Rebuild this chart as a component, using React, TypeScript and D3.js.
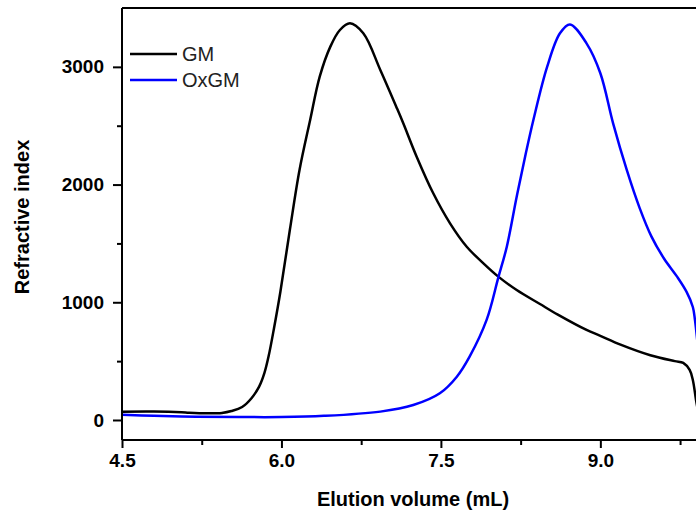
import * as d3 from "d3";
import * as React from "react";

// elution volume (mL) / refractive index
const gmVolume = [4.5, 4.8, 5.06, 5.13, 5.3, 5.44, 5.53, 5.63, 5.72, 5.79, 5.84, 5.88, 5.93, 5.99, 6.08, 6.17, 6.27, 6.36, 6.46, 6.55, 6.645, 6.77, 6.93, 7.08, 7.146, 7.272, 7.428, 7.586, 7.743, 7.9, 8.04, 8.213, 8.432, 8.6, 8.87, 9.0, 9.19, 9.47, 9.7, 9.78, 9.84, 9.87, 9.9, 9.93];
const gmSignal = [71, 72, 66, 62, 57, 60, 76, 110, 187, 283, 400, 545, 780, 1090, 1620, 2124, 2549, 2917, 3172, 3313, 3370, 3285, 2974, 2662, 2521, 2237, 1926, 1671, 1472, 1331, 1218, 1104, 985, 895, 765, 715, 640, 550, 500, 485, 425, 340, 170, 20];

const oxVolume = [4.5, 4.8, 5.2, 5.6, 6.0, 6.4, 6.93, 7.24, 7.49, 7.65, 7.77, 7.93, 8.04, 8.12, 8.213, 8.3, 8.37, 8.5, 8.62, 8.714, 8.87, 9.0, 9.12, 9.25, 9.37, 9.48, 9.6, 9.72, 9.81, 9.87, 9.89, 9.92, 9.95];
const oxSignal = [45, 35, 28, 25, 25, 35, 71, 127, 227, 368, 538, 850, 1210, 1472, 1897, 2270, 2549, 3002, 3285, 3360, 3200, 2946, 2520, 2120, 1800, 1560, 1370, 1220, 1090, 960, 850, 600, 300];

const xMajor = [4.5, 6.0, 7.5, 9.0];
const xMinor = [5.25, 6.75, 8.25, 9.75];
const yMajor = [0, 1000, 2000, 3000];
const yMinor = [500, 1500, 2500];

const series = [
  { name: "GM", color: "#000000", x: gmVolume, y: gmSignal },
  { name: "OxGM", color: "#0000ff", x: oxVolume, y: oxSignal },
];

const FONT = "Arial, 'Liberation Sans', sans-serif";

export default function App() {
  const ref = React.useRef<SVGSVGElement>(null);

  React.useEffect(() => {
    const width = 696;
    const height = 511;
    const margin = { top: 8, left: 122, bottom: 440 };

    const x = d3.scaleLinear().domain([4.5, 10.5]).range([margin.left, margin.left + 6 * 106.3]);
    const y = d3.scaleLinear().domain([-170, 3500]).range([margin.bottom, margin.top]);

    const svg = d3.select(ref.current);
    svg.selectAll("*").remove();
    svg.attr("width", width).attr("height", height).attr("viewBox", [0, 0, width, height]);

    svg.append("rect").attr("width", width).attr("height", height).attr("fill", "white");

    const line = d3
      .line<[number, number]>()
      .curve(d3.curveCatmullRom.alpha(0.5))
      .x((d) => x(d[0]))
      .y((d) => y(d[1]));

    series.forEach((s) => {
      const pts = s.x.map((v, i) => [v, s.y[i]] as [number, number]);
      svg
        .append("path")
        .datum(pts)
        .attr("fill", "none")
        .attr("stroke", s.color)
        .attr("stroke-width", 2.5)
        .attr("stroke-linejoin", "round")
        .attr("d", line);
    });

    // frame: left, bottom, top
    const frame = svg.append("g").attr("stroke", "black").attr("stroke-width", 2);
    frame.append("line").attr("x1", margin.left).attr("x2", margin.left).attr("y1", margin.top).attr("y2", margin.bottom);
    frame.append("line").attr("x1", margin.left).attr("x2", width + 5).attr("y1", margin.bottom).attr("y2", margin.bottom);
    frame.append("line").attr("x1", margin.left).attr("x2", width + 5).attr("y1", margin.top).attr("y2", margin.top);

    const boldText = (g: any) =>
      g.selectAll("text").attr("font-family", FONT).attr("font-size", 19).attr("font-weight", "bold").attr("fill", "black");

    // x axis
    svg
      .append("g")
      .attr("transform", `translate(0,${margin.bottom})`)
      .call(d3.axisBottom(x).tickValues(xMajor).tickSize(8).tickPadding(6).tickFormat(d3.format(".1f")))
      .call((g) => g.select(".domain").remove())
      .call((g) => g.selectAll("line").attr("stroke-width", 2))
      .call(boldText);
    svg
      .append("g")
      .attr("transform", `translate(0,${margin.bottom})`)
      .call(d3.axisBottom(x).tickValues(xMinor).tickSize(5).tickFormat(() => ""))
      .call((g) => g.select(".domain").remove())
      .call((g) => g.selectAll("line").attr("stroke-width", 2));

    // y axis
    svg
      .append("g")
      .attr("transform", `translate(${margin.left},0)`)
      .call(d3.axisLeft(y).tickValues(yMajor).tickSize(9).tickPadding(9).tickFormat(d3.format("d")))
      .call((g) => g.select(".domain").remove())
      .call((g) => g.selectAll("line").attr("stroke-width", 2))
      .call(boldText);
    svg
      .append("g")
      .attr("transform", `translate(${margin.left},0)`)
      .call(d3.axisLeft(y).tickValues(yMinor).tickSize(5).tickFormat(() => ""))
      .call((g) => g.select(".domain").remove())
      .call((g) => g.selectAll("line").attr("stroke-width", 2));

    // axis titles
    svg
      .append("text")
      .attr("x", 413)
      .attr("y", 506)
      .attr("text-anchor", "middle")
      .attr("font-family", FONT)
      .attr("font-size", 20)
      .attr("font-weight", "bold")
      .text("Elution volume (mL)");
    svg
      .append("text")
      .attr("transform", "translate(29,217) rotate(-90)")
      .attr("text-anchor", "middle")
      .attr("font-family", FONT)
      .attr("font-size", 20)
      .attr("font-weight", "bold")
      .text("Refractive index");

    // legend
    const legend = svg.append("g");
    series.forEach((s, i) => {
      const ly = 54 + i * 26;
      legend.append("line").attr("x1", 130).attr("x2", 177).attr("y1", ly).attr("y2", ly).attr("stroke", s.color).attr("stroke-width", 2.5);
      legend
        .append("text")
        .attr("x", 182)
        .attr("y", ly + 7)
        .attr("font-family", FONT)
        .attr("font-size", 20)
        .attr("fill", "#222")
        .text(s.name);
    });
  }, []);

  return <svg ref={ref} style={{ position: "absolute", left: 0, top: 0, overflow: "hidden" }}></svg>;
}
